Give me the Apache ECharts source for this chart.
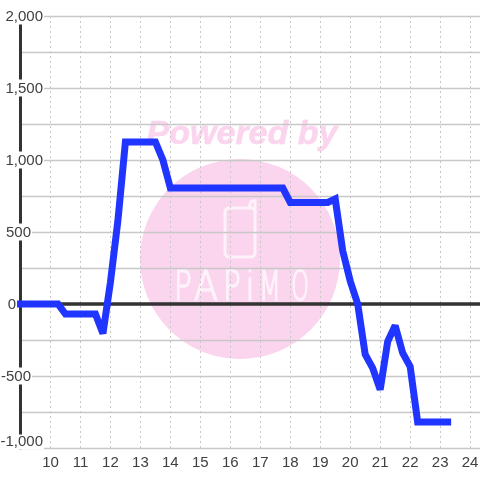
<!DOCTYPE html>
<html><head><meta charset="utf-8">
<style>html,body{margin:0;padding:0;background:#fff}#c{width:480px;height:480px}</style>
<script src="https://cdn.jsdelivr.net/npm/echarts@6/dist/echarts.min.js"></script>
</head><body><div id="c"></div>
<script>
const hours=[9,10.25,10.5,11.5,11.75,12,12.25,12.5,13.5,13.75,14,17.75,18,19.25,19.5,19.75,20,20.25,20.5,20.75,21,21.25,21.5,21.75,22,22.25,23.25];
const values=[0,0,-70,-70,-205,150,580,1125,1125,1000,805,805,705,705,730,370,160,0,-350,-445,-595,-260,-150,-340,-435,-820,-820];
const yLabelled=[2000,1500,1000,500,0,-500,-1000];
const logoLetters=['P','A','P','i','M','O'];
const logoX=[183,206,232,250,270,300];
const logoScale=[0.72,0.85,0.72,0.8,0.62,0.55];
const font='"Liberation Sans"';
const chart=echarts.init(document.getElementById('c'),null,{renderer:'canvas'});
const gap=v=>{const a=Math.abs(v);return a>=1000?'':a===500?'{g12|}':'{g27|}';};
const cls=v=>v===-1000?'m':'a';
const wm='#fbd5ee', lt='#fef2fa';
const txt={color:'#404040',fontFamily:font,fontSize:15,backgroundColor:'#fff'};
chart.setOption({
 animation:false,
 grid:{left:20.5,right:0,top:16,bottom:32,containLabel:false,outerBoundsMode:'none'},
 graphic:{elements:[
  {type:'circle',z:-10,shape:{cx:240,cy:259,r:100},style:{fill:wm}},
  {type:'text',z:-10,style:{x:242,y:135,text:'Powered by',align:'center',verticalAlign:'middle',font:'italic bold 34px "Liberation Sans"',fill:wm,stroke:wm,lineWidth:0.6}},
  {type:'rect',z:-9,shape:{x:225,y:208,width:30,height:49,r:4},style:{fill:null,stroke:lt,lineWidth:3}},
  {type:'polyline',z:-9,shape:{points:[[249,208],[251,201.5],[255,200.5],[255,212]]},style:{fill:null,stroke:lt,lineWidth:3,lineJoin:'round',lineCap:'round'}},
  ...logoLetters.map((t,i)=>({type:'text',z:-9,x:logoX[i],y:289,scaleX:logoScale[i],style:{x:0,y:0,text:t,align:'center',verticalAlign:'middle',font:'200 41px "DejaVu Sans"',fill:lt,stroke:lt,lineWidth:1.6}}))
 ]},
 xAxis:{type:'value',min:9,max:24.33,interval:1,
  axisLine:{show:false},axisTick:{show:false},
  splitLine:{show:true,lineStyle:{color:'#c8c8c8',type:[2,3],width:1}},
  axisLabel:{color:'#404040',fontFamily:font,fontSize:15,margin:7,showMinLabel:false,showMaxLabel:false,hideOverlap:false,
   formatter:v=>Number.isInteger(v)&&v>9?String(v):''}},
 yAxis:{type:'value',min:-1000,max:2000,interval:250,
  axisLine:{show:true,onZero:false,lineStyle:{color:'#333',width:3}},axisTick:{show:false},
  splitLine:{show:true,lineStyle:{color:'#c8c8c8',width:1.3,type:'solid'}},
  axisLabel:{align:'right',margin:-23.5,verticalAlignMinLabel:'bottom',hideOverlap:false,
   formatter:v=>yLabelled.includes(v)?'{'+cls(v)+'|'+echarts.format.addCommas(v)+'}'+gap(v):'',
   rich:{a:{...txt,lineHeight:16,padding:[2,1,0,1]},m:{...txt,lineHeight:12,padding:[0,1,0,1]},
    g12:{width:12,height:1},g27:{width:27,height:1}}}},
 series:[{type:'line',data:hours.map((h,i)=>[h,values[i]]),showSymbol:false,clip:false,
  lineStyle:{color:'#2035ff',width:7,cap:'square',join:'miter',miterLimit:2},
  itemStyle:{color:'#2035ff'},z:5,
  markLine:{silent:true,symbol:'none',z:3,label:{show:false},data:[{yAxis:0}],
   lineStyle:{color:'#333',width:3.5,type:'solid'}}}]
});
</script></body></html>
